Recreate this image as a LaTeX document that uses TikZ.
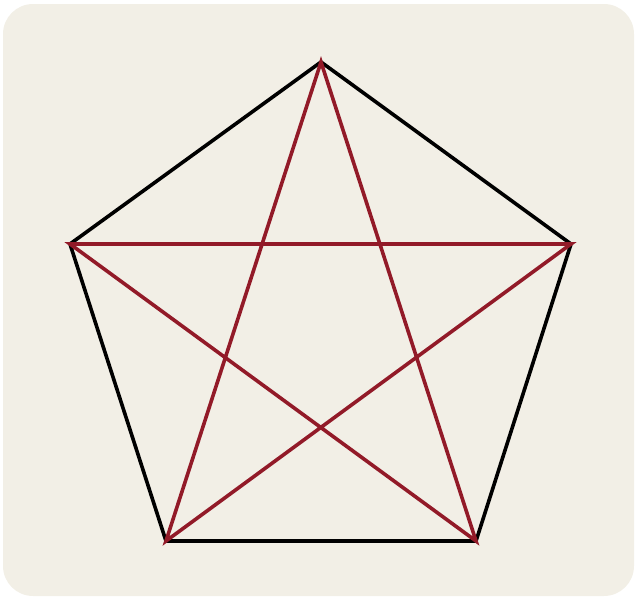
\documentclass[tikz,border=0pt]{standalone}
\usepackage{xcolor}
\usepackage{tikz}
\usetikzlibrary{positioning}
\definecolor{paper}{HTML}{F2EFE6}
\definecolor{starred}{HTML}{921A28}

\begin{document}
\begin{tikzpicture}[x=1pt, y=-1pt, edge/.style={line width=3.6pt, line join=miter}]
  \useasboundingbox (0,0) rectangle (635,597);
  \fill[paper, rounded corners=30pt] (3,4) rectangle (634,596);
  \coordinate (t) at (321,62);
  \coordinate (r) at (571,244);
  \coordinate (br) at (476,541);
  \coordinate (bl) at (166,541);
  \coordinate (l) at (70,244);
  \draw[edge, black] (t) -- (r) -- (br) -- (bl) -- (l) -- cycle;
  \draw[edge, starred] (t) -- (br) -- (l) -- (r) -- (bl) -- cycle;
\end{tikzpicture}
\end{document}
